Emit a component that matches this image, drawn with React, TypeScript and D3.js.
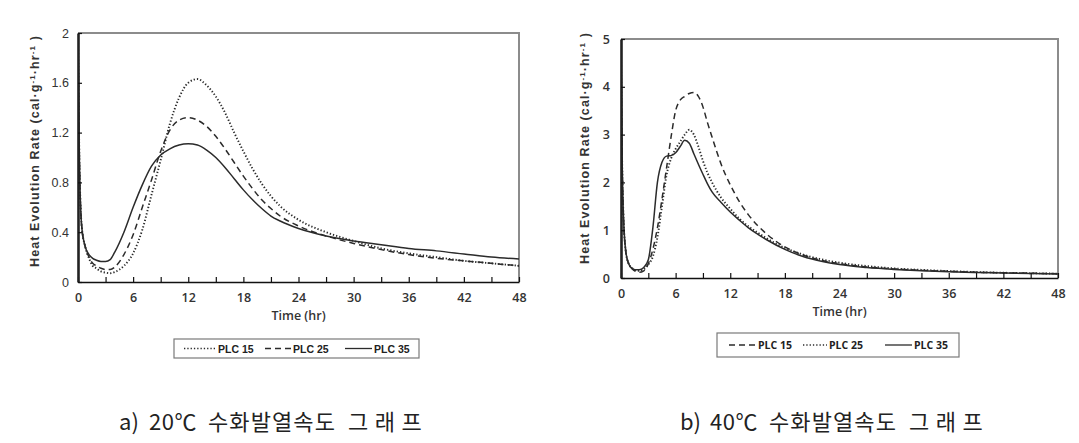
import React, { useEffect, useRef } from 'react';
import * as d3 from 'd3';

// a) 20℃ chart
const timeA = [0, 0.15, 0.4, 0.8, 1.2, 1.6, 2, 2.5, 3, 3.5, 4, 5, 6, 7, 8, 9, 10, 11, 12, 13, 14, 15, 16, 17, 18, 19, 20, 21, 22, 24, 27, 30, 33, 36, 39, 42, 45, 48];
const plc15A = [2.0, 1.0, 0.45, 0.28, 0.19, 0.13, 0.11, 0.085, 0.075, 0.07, 0.08, 0.13, 0.23, 0.42, 0.7, 0.98, 1.27, 1.48, 1.6, 1.63, 1.58, 1.49, 1.36, 1.2, 1.05, 0.91, 0.79, 0.69, 0.61, 0.5, 0.4, 0.33, 0.27, 0.23, 0.2, 0.17, 0.15, 0.13];
const plc25A = [2.0, 1.0, 0.45, 0.28, 0.2, 0.15, 0.13, 0.11, 0.1, 0.1, 0.12, 0.22, 0.38, 0.6, 0.82, 1.05, 1.22, 1.3, 1.32, 1.3, 1.25, 1.17, 1.07, 0.96, 0.85, 0.75, 0.66, 0.59, 0.53, 0.45, 0.37, 0.31, 0.26, 0.22, 0.19, 0.17, 0.15, 0.13];
const plc35A = [2.0, 1.0, 0.45, 0.28, 0.22, 0.19, 0.175, 0.165, 0.165, 0.18, 0.24, 0.4, 0.6, 0.78, 0.93, 1.02, 1.07, 1.1, 1.11, 1.1, 1.06, 1.0, 0.92, 0.83, 0.74, 0.66, 0.59, 0.53, 0.49, 0.43, 0.37, 0.33, 0.3, 0.27, 0.25, 0.225, 0.2, 0.185];
const yTicksA = [0, 0.4, 0.8, 1.2, 1.6, 2];

// b) 40℃ chart
const timeB = [0, 0.1, 0.25, 0.5, 0.8, 1.2, 1.6, 2, 2.5, 3, 3.5, 4, 4.5, 5, 5.5, 6, 6.5, 7, 7.5, 8, 8.5, 9, 9.5, 10, 11, 12, 13, 14, 15, 16, 18, 20, 22, 24, 27, 30, 33, 36, 39, 42, 45, 48];
const plc15B = [4.8, 2.8, 1.4, 0.6, 0.32, 0.2, 0.14, 0.12, 0.15, 0.3, 0.6, 1.05, 1.65, 2.3, 2.95, 3.5, 3.72, 3.8, 3.86, 3.88, 3.8, 3.58, 3.25, 2.95, 2.38, 1.95, 1.6, 1.32, 1.1, 0.92, 0.65, 0.48, 0.37, 0.3, 0.23, 0.19, 0.16, 0.14, 0.12, 0.11, 0.1, 0.09];
const plc25B = [4.8, 2.8, 1.4, 0.6, 0.32, 0.21, 0.16, 0.15, 0.18, 0.28, 0.45, 0.85, 1.5, 2.15, 2.5, 2.7, 2.85, 3.0, 3.1, 3.0, 2.75, 2.45, 2.2, 2.0, 1.68, 1.45, 1.24, 1.08, 0.95, 0.83, 0.63, 0.49, 0.39, 0.32, 0.25, 0.2, 0.17, 0.145, 0.125, 0.11, 0.1, 0.09];
const plc35B = [4.8, 2.8, 1.4, 0.6, 0.32, 0.2, 0.17, 0.17, 0.22, 0.38, 1.05, 2.0, 2.42, 2.55, 2.56, 2.62, 2.75, 2.88, 2.82, 2.6, 2.38, 2.17, 1.97, 1.8, 1.58, 1.38, 1.21, 1.05, 0.92, 0.8, 0.6, 0.45, 0.35, 0.28, 0.22, 0.18, 0.15, 0.13, 0.115, 0.105, 0.095, 0.085];
const yTicksB = [0, 1, 2, 3, 4, 5];

const xTicks = [0, 6, 12, 18, 24, 30, 36, 42, 48];
const xMinorTicks = [0, 3, 6, 9, 12, 15, 18, 21, 24, 27, 30, 33, 36, 39, 42, 45, 48];
const seriesNames = ['PLC 15', 'PLC 25', 'PLC 35'];

const DOTTED = '1.3,2';
const DASHED = '6,4';
const SOLID = 'none';
const INK = '#2b2b2b';

// caption words: [text, offset from caption start, letter spacing]
const captionParts = (label, temp) => [
  [label, 0, 0],
  [temp, 30, 0.5],
  ['수화발열속도', 89, 1.1],
  ['그래프', 229, 6.5],
];

const drawChart = (svg, cfg) => {
  const x = d3.scaleLinear().domain([0, 48]).range([cfg.left, cfg.right]);
  const y = d3.scaleLinear().domain([0, cfg.yMax]).range([cfg.bottom, cfg.top]);
  const g = svg.append('g');

  g.append('clipPath')
    .attr('id', cfg.id)
    .append('rect')
    .attr('x', cfg.left)
    .attr('y', cfg.top)
    .attr('width', cfg.right - cfg.left)
    .attr('height', cfg.bottom - cfg.top);

  // frame (top / right in gray)
  g.append('path')
    .attr('d', `M${cfg.left},${cfg.top}H${cfg.right}V${cfg.bottom}`)
    .attr('fill', 'none')
    .attr('stroke', '#8c8c8c')
    .attr('stroke-width', 2);

  // curves
  const line = d3
    .line<number>()
    .x((d, i) => x(cfg.time[i]))
    .y((d) => y(d))
    .curve(d3.curveMonotoneX);
  cfg.series.forEach((vals, i) => {
    g.append('path')
      .datum(vals)
      .attr('d', line)
      .attr('clip-path', `url(#${cfg.id})`)
      .attr('fill', 'none')
      .attr('stroke', INK)
      .attr('stroke-width', cfg.dash[i] === DOTTED ? 1.9 : 1.5)
      .attr('stroke-dasharray', cfg.dash[i]);
  });

  // x axis, ticks point inward
  const xAxis = d3
    .axisBottom(x)
    .tickValues(xMinorTicks)
    .tickSizeInner(-5)
    .tickSizeOuter(0)
    .tickPadding(11)
    .tickFormat((d) => (xTicks.includes(d) ? String(d) : ''));
  const gx = g.append('g').attr('transform', `translate(0,${cfg.bottom})`).call(xAxis);
  gx.select('.domain').attr('stroke', '#111').attr('stroke-width', 1.6);
  gx.selectAll('line').attr('stroke', '#111').attr('stroke-width', 1.2);
  gx.selectAll('text')
    .attr('font-family', 'Open Sans, sans-serif')
    .attr('font-size', 12.5)
    .attr('font-weight', 600)
    .attr('fill', '#333');

  // y axis (thick: the t=0 spikes sit on it)
  const yAxis = d3
    .axisLeft(y)
    .tickValues(cfg.yTicks)
    .tickSizeInner(-4)
    .tickSizeOuter(0)
    .tickPadding(cfg.yPad)
    .tickFormat((d) => String(d));
  const gy = g.append('g').attr('transform', `translate(${cfg.left},0)`).call(yAxis);
  gy.select('.domain').attr('stroke', '#222').attr('stroke-width', 2.6);
  gy.selectAll('line').attr('stroke', '#111').attr('stroke-width', 1.2);
  gy.selectAll('text')
    .attr('font-family', cfg.yFont)
    .attr('font-size', 12.5)
    .attr('font-weight', cfg.yFont.startsWith('Open') ? 600 : 400)
    .attr('fill', '#333');

  // axis titles
  g.append('text')
    .attr('x', (cfg.left + cfg.right) / 2)
    .attr('y', cfg.bottom + 38)
    .attr('text-anchor', 'middle')
    .attr('font-family', 'Open Sans, sans-serif')
    .attr('font-size', 12.5)
    .attr('font-weight', 600)
    .attr('fill', '#333')
    .text('Time (hr)');

  const yt = g
    .append('text')
    .attr('transform', `translate(${cfg.yTitleX},${cfg.yTitleY}) rotate(-90)`)
    .attr('text-anchor', 'middle')
    .attr('font-family', 'Liberation Sans, Arial, sans-serif')
    .attr('font-size', 12.5)
    .attr('letter-spacing', 1.1)
    .attr('font-weight', 700)
    .attr('fill', '#333');
  yt.append('tspan').text('Heat Evolution Rate (cal·g');
  yt.append('tspan').attr('dy', -4).attr('font-size', 8).text('-1');
  yt.append('tspan').attr('dy', 4).text('·hr');
  yt.append('tspan').attr('dy', -4).attr('font-size', 8).text('-1');
  yt.append('tspan').attr('dy', 4).text(' )');

  // legend
  const lg = cfg.legend;
  g.append('rect')
    .attr('x', lg.x)
    .attr('y', lg.y)
    .attr('width', lg.w)
    .attr('height', lg.h)
    .attr('fill', '#fff')
    .attr('stroke', '#7a7a7a')
    .attr('stroke-width', 1.2);
  const cy = lg.y + lg.h / 2;
  seriesNames.forEach((name, i) => {
    const [x0, x1] = lg.items[i];
    g.append('line')
      .attr('x1', x0)
      .attr('x2', x1)
      .attr('y1', cy)
      .attr('y2', cy)
      .attr('stroke', INK)
      .attr('stroke-width', cfg.dash[i] === DOTTED ? 1.6 : 1.3)
      .attr('stroke-dasharray', cfg.dash[i]);
    g.append('text')
      .attr('x', x1 + 2)
      .attr('y', cy + 4)
      .attr('font-family', lg.font)
      .attr('font-size', 10.5)
      .attr('font-weight', 700)
      .attr('fill', '#222')
      .text(name);
  });

  // caption
  const cap = g
    .append('text')
    .attr('y', 430)
    .attr('font-family', 'Noto Sans CJK KR, sans-serif')
    .attr('font-size', 22)
    .attr('fill', '#222');
  captionParts(cfg.capLabel, cfg.capTemp).forEach(([t, off, ls]) => {
    cap.append('tspan').attr('x', cfg.capX + off).attr('letter-spacing', ls).text(t);
  });
};

const App = () => {
  const svgRef = useRef(null);

  useEffect(() => {
    const svg = d3.select(svgRef.current);
    svg.selectAll('*').remove();

    drawChart(svg, {
      id: 'clipA',
      left: 78,
      right: 519,
      top: 33,
      bottom: 282,
      yMax: 2,
      yTicks: yTicksA,
      yPad: 9,
      yFont: 'Liberation Sans, Arial, sans-serif',
      time: timeA,
      series: [plc15A, plc25A, plc35A],
      dash: [DOTTED, DASHED, SOLID],
      yTitleX: 39,
      yTitleY: 151,
      legend: {
        x: 174,
        y: 339,
        w: 245,
        h: 19,
        font: 'Liberation Sans, Arial, sans-serif',
        items: [[184, 216], [265, 291], [345, 372]],
      },
      capX: 119,
      capLabel: 'a)',
      capTemp: '20℃',
    });

    drawChart(svg, {
      id: 'clipB',
      left: 621,
      right: 1058,
      top: 39,
      bottom: 278,
      yMax: 5,
      yTicks: yTicksB,
      yPad: 11,
      yFont: 'Open Sans, sans-serif',
      time: timeB,
      series: [plc15B, plc25B, plc35B],
      dash: [DASHED, DOTTED, SOLID],
      yTitleX: 589,
      yTitleY: 148,
      legend: {
        x: 717,
        y: 333,
        w: 242,
        h: 24,
        font: 'Open Sans, sans-serif',
        items: [[729, 756], [803, 827], [885, 912]],
      },
      capX: 680,
      capLabel: 'b)',
      capTemp: '40℃',
    });
  }, []);

  return (
    <div style={{ position: 'absolute', left: 0, top: 0, background: 'white' }}>
      <svg ref={svgRef} width={1079} height={443} style={{ display: 'block' }} />
    </div>
  );
};

export default App;
